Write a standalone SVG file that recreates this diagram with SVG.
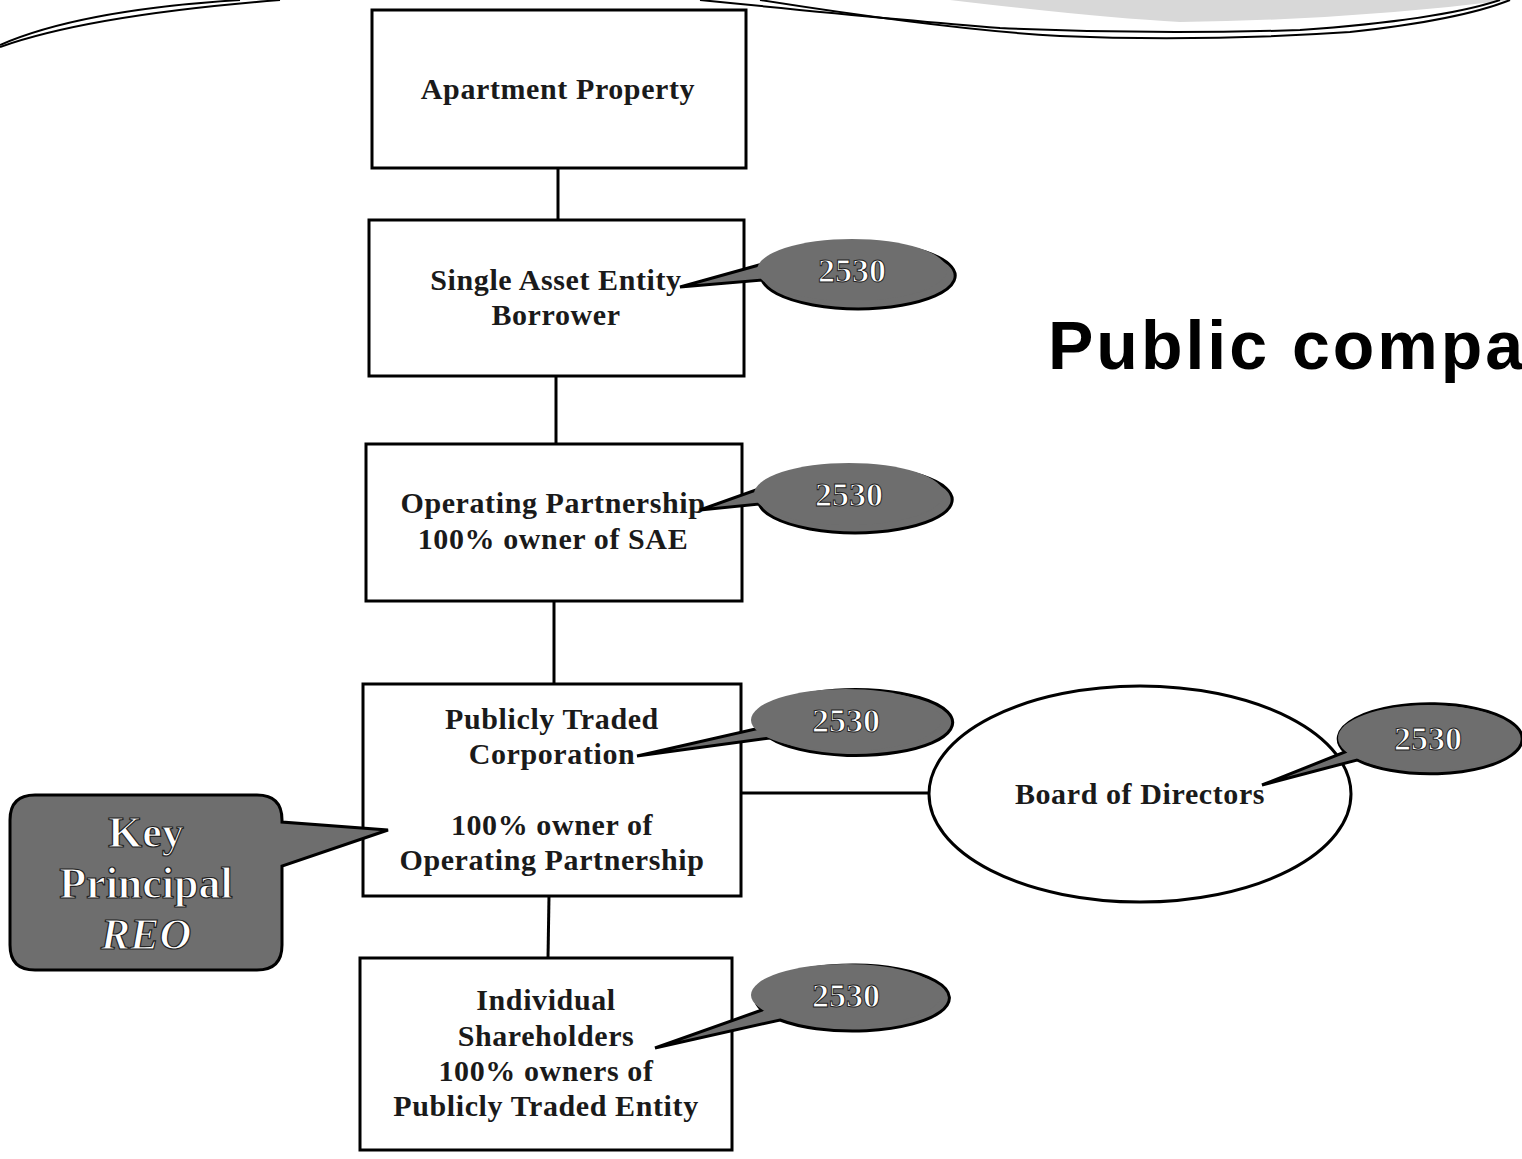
<svg xmlns="http://www.w3.org/2000/svg" width="1522" height="1159" viewBox="0 0 1522 1159">
<style>
.box{fill:#fff;stroke:#000;stroke-width:3}
.t{font-family:"Liberation Serif",serif;font-size:30px;font-weight:bold;fill:#1a1a1a;text-anchor:middle;letter-spacing:0.6px}
.conn line{stroke:#000;stroke-width:3}
.call{fill:#6e6e6e;stroke:#000;stroke-width:3}
.ct{font-family:"Liberation Serif",serif;font-size:34px;font-weight:bold;fill:#fff;text-anchor:middle;stroke:#222;stroke-width:1}
.kt{font-family:"Liberation Serif",serif;font-size:44px;font-weight:bold;fill:#fff;text-anchor:middle;stroke:#222;stroke-width:1.2}
.deco{fill:none;stroke:#000;stroke-width:2}
</style>
<rect width="1522" height="1159" fill="#fff"/>
<g id="decoration">
<path d="M950,0 Q1100,18 1180,22 Q1350,20 1510,0 Z" fill="#d8d8d8"/>
<path class="deco" d="M0,45 Q80,10 240,0"/>
<path class="deco" d="M0,47 Q90,15 280,0"/>
<path class="deco" d="M700,0 Q900,20 1000,28 Q1150,35 1300,30 Q1440,20 1500,0"/>
<path class="deco" d="M760,0 Q950,30 1060,36 Q1200,42 1350,32 Q1460,20 1510,0"/>
</g>
<g class="conn" id="connectors">
<line x1="558" y1="168" x2="558" y2="220"/>
<line x1="556" y1="376" x2="556" y2="444"/>
<line x1="554" y1="601" x2="554" y2="684"/>
<line x1="549" y1="896" x2="548" y2="958"/>
<line x1="741" y1="793" x2="930" y2="793"/>
</g>
<g id="n1"><rect class="box" x="372" y="10" width="374" height="158"/><text class="t" x="558" y="99">Apartment Property</text></g>
<g id="n2"><rect class="box" x="369" y="220" width="375" height="156"/><text class="t" x="556" y="290">Single Asset Entity</text><text class="t" x="556" y="325">Borrower</text></g>
<g id="n3"><rect class="box" x="366" y="444" width="376" height="157"/><text class="t" x="553" y="513">Operating Partnership</text><text class="t" x="553" y="549">100% owner of SAE</text></g>
<g id="n4"><rect class="box" x="363" y="684" width="378" height="212"/><text class="t" x="552" y="729">Publicly Traded</text><text class="t" x="552" y="764">Corporation</text><text class="t" x="552" y="835">100% owner of</text><text class="t" x="552" y="870">Operating Partnership</text></g>
<g id="n5"><rect class="box" x="360" y="958" width="372" height="192"/><text class="t" x="546" y="1010">Individual</text><text class="t" x="546" y="1046">Shareholders</text><text class="t" x="546" y="1081">100% owners of</text><text class="t" x="546" y="1116">Publicly Traded Entity</text></g>
<g id="n6"><ellipse class="box" cx="1140" cy="794" rx="211" ry="108"/><text class="t" x="1140" y="804">Board of Directors</text></g>
<g id="title"><text x="1048" y="369" font-family="'Liberation Sans',Arial,sans-serif" font-size="68" font-weight="bold" fill="#000" letter-spacing="3">Public compa</text></g>
<g id="c1"><path class="call" d="M680,287 L762,280 A97,33 0 1 0 770,262 Z"/><ellipse cx="852" cy="270" rx="95" ry="31" fill="#6e6e6e"/><text class="ct" x="852" y="282">2530</text></g>
<g id="c2"><path class="call" d="M700,510 L759,504 A97,33 0 1 0 767,486 Z"/><ellipse cx="849" cy="494" rx="95" ry="31" fill="#6e6e6e"/><text class="ct" x="849" y="506">2530</text></g>
<g id="c3"><path class="call" d="M637,756 L770,738 A97,33 0 1 0 760,728 Z"/><ellipse cx="846" cy="720" rx="95" ry="31" fill="#6e6e6e"/><text class="ct" x="846" y="732">2530</text></g>
<g id="c4"><path class="call" d="M1262,785 L1357,760 A92,35 0 1 0 1345,752 Z"/><ellipse cx="1428" cy="738" rx="90" ry="33" fill="#6e6e6e"/><text class="ct" x="1428" y="750">2530</text></g>
<g id="c5"><path class="call" d="M655,1048 L780,1020 A97,33 0 1 0 762,1010 Z"/><ellipse cx="846" cy="995" rx="95" ry="31" fill="#6e6e6e"/><text class="ct" x="846" y="1007">2530</text></g>
<g id="key"><path class="call" d="M35,795 H257 Q282,795 282,820 V822 L388,830 L282,866 V945 Q282,970 257,970 H35 Q10,970 10,945 V820 Q10,795 35,795 Z"/><text class="kt" x="146" y="847">Key</text><text class="kt" x="146" y="898">Principal</text><text class="kt" x="146" y="949" font-style="italic">REO</text></g>
</svg>
